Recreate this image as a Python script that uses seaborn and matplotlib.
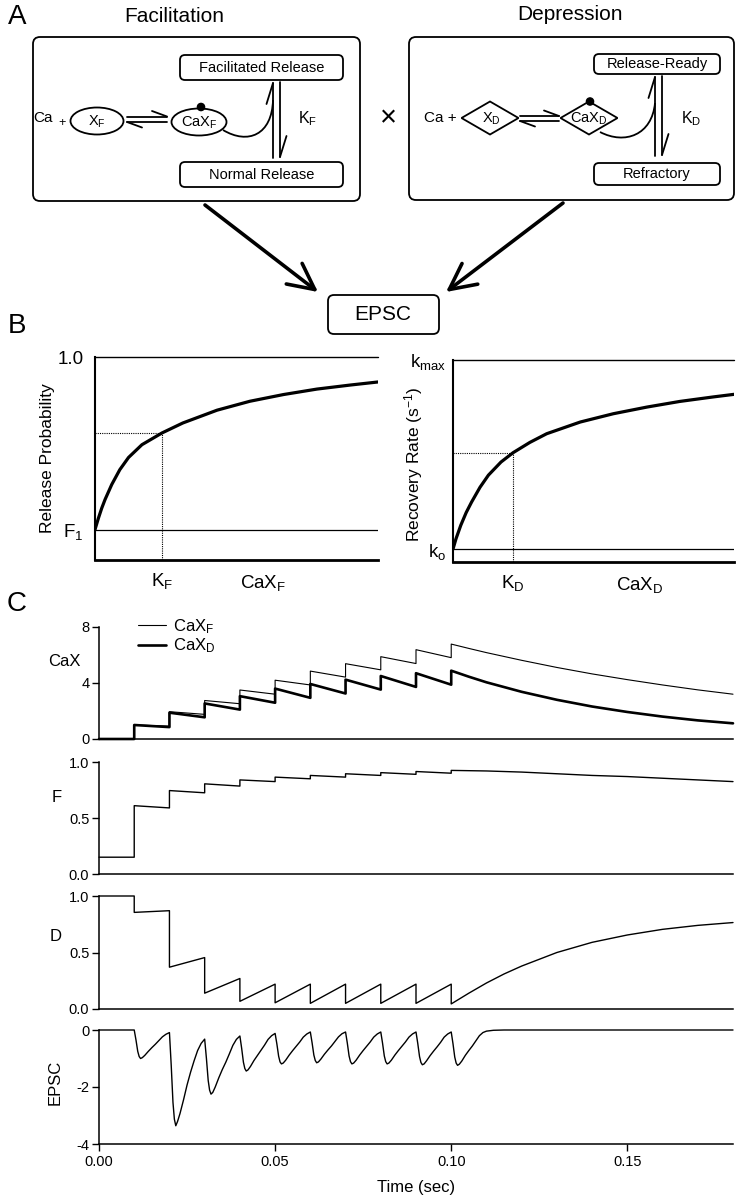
import numpy as np
import pandas as pd
import matplotlib
matplotlib.use("Agg")
import matplotlib.pyplot as plt
import seaborn as sns
from matplotlib.patches import FancyBboxPatch, Ellipse, Polygon, Circle, PathPatch
from matplotlib.path import Path

sns.set_theme(style="ticks")
plt.rcParams["font.family"] = ["Liberation Sans", "DejaVu Sans"]
plt.rcParams["mathtext.fontset"] = "custom"
plt.rcParams["mathtext.rm"] = "Liberation Sans"
plt.rcParams["mathtext.it"] = "Liberation Sans:italic"
plt.rcParams["axes.unicode_minus"] = False
for key in ("text.color", "axes.labelcolor", "xtick.color", "ytick.color",
            "axes.edgecolor", "patch.edgecolor"):
    plt.rcParams[key] = "black"

# ---------------- Panel B data ----------------
relprob_cax = [0, 0.05, 0.1, 0.15, 0.25, 0.37, 0.5, 0.7, 1.0, 1.31, 1.82, 2.31, 2.81, 3.31, 3.81, 4.22]
relprob_val = [0.15, 0.205, 0.255, 0.298, 0.372, 0.445, 0.505, 0.568, 0.626, 0.675, 0.738, 0.782,
               0.815, 0.842, 0.862, 0.877]
F1_level = 0.15
KF_pos = 1.0
KF_val = 0.626

recov_cax = [0, 0.05, 0.13, 0.22, 0.31, 0.45, 0.59, 0.8, 1.0, 1.28, 1.56, 2.12, 2.67, 3.23, 3.78, 4.33, 4.68]
recov_val = [0.064, 0.115, 0.182, 0.245, 0.297, 0.37, 0.43, 0.495, 0.541, 0.592, 0.635, 0.693,
             0.734, 0.767, 0.795, 0.817, 0.83]
k0_level = 0.064
KD_pos = 1.0
KD_val = 0.541

# ---------------- Panel C data ----------------
cax_t = [0, 0.01, 0.01, 0.02, 0.02, 0.03, 0.03, 0.04, 0.04, 0.05, 0.05, 0.06, 0.06,
         0.07, 0.07, 0.08, 0.08, 0.09, 0.09, 0.10, 0.10,
         0.105, 0.11, 0.12, 0.13, 0.14, 0.15, 0.16, 0.17, 0.18]
caxF_v = [0, 0, 1.0, 0.92, 1.95, 1.76, 2.75, 2.52, 3.5, 3.2, 4.2, 3.86, 4.85, 4.42,
          5.38, 4.94, 5.88, 5.39, 6.38, 5.81, 6.78,
          6.47, 6.17, 5.62, 5.11, 4.65, 4.24, 3.86, 3.51, 3.2]
caxD_v = [0, 0, 1.0, 0.85, 1.88, 1.55, 2.54, 2.1, 3.06, 2.59, 3.6, 2.94, 3.93, 3.25,
          4.24, 3.53, 4.5, 3.72, 4.7, 3.88, 4.88,
          4.45, 4.05, 3.37, 2.8, 2.32, 1.93, 1.6, 1.33, 1.12]

F_t = [0, 0.01, 0.01, 0.02, 0.02, 0.03, 0.03, 0.04, 0.04, 0.05, 0.05, 0.06, 0.06,
       0.07, 0.07, 0.08, 0.08, 0.09, 0.09, 0.10, 0.10,
       0.11, 0.12, 0.13, 0.14, 0.15, 0.16, 0.17, 0.18]
F_v = [0.15, 0.15, 0.61, 0.59, 0.745, 0.725, 0.805, 0.785, 0.84, 0.825, 0.865, 0.85,
       0.88, 0.865, 0.895, 0.88, 0.905, 0.89, 0.915, 0.90, 0.925,
       0.92, 0.91, 0.895, 0.88, 0.87, 0.855, 0.84, 0.825]

D_t = [0, 0.01, 0.01, 0.02, 0.02, 0.03, 0.03, 0.04, 0.04, 0.05, 0.05, 0.06, 0.06,
       0.07, 0.07, 0.08, 0.08, 0.09, 0.09, 0.10, 0.10,
       0.105, 0.11, 0.115, 0.12, 0.13, 0.14, 0.15, 0.16, 0.17, 0.18]
D_v = [1.0, 1.0, 0.855, 0.87, 0.37, 0.455, 0.14, 0.27, 0.068, 0.22, 0.055, 0.22,
       0.05, 0.22, 0.05, 0.22, 0.05, 0.22, 0.05, 0.22, 0.045,
       0.14, 0.23, 0.31, 0.38, 0.50, 0.59, 0.655, 0.705, 0.74, 0.765]

epsc_t = [0,
    0.0100, 0.0105, 0.0110, 0.0114, 0.0118, 0.0123, 0.0130, 0.0140, 0.0150, 0.0160, 0.0170, 0.0180, 0.0190,
    0.0200, 0.0205, 0.0210, 0.0214, 0.0218, 0.0223, 0.0230, 0.0240, 0.0250, 0.0260, 0.0270, 0.0280, 0.0290,
    0.0300, 0.0305, 0.0310, 0.0314, 0.0318, 0.0323, 0.0330, 0.0340, 0.0350, 0.0360, 0.0370, 0.0380, 0.0390,
    0.0400, 0.0405, 0.0410, 0.0414, 0.0418, 0.0423, 0.0430, 0.0440, 0.0450, 0.0460, 0.0470, 0.0480, 0.0490,
    0.0500, 0.0505, 0.0510, 0.0514, 0.0518, 0.0523, 0.0530, 0.0540, 0.0550, 0.0560, 0.0570, 0.0580, 0.0590,
    0.0600, 0.0605, 0.0610, 0.0614, 0.0618, 0.0623, 0.0630, 0.0640, 0.0650, 0.0660, 0.0670, 0.0680, 0.0690,
    0.0700, 0.0705, 0.0710, 0.0714, 0.0718, 0.0723, 0.0730, 0.0740, 0.0750, 0.0760, 0.0770, 0.0780, 0.0790,
    0.0800, 0.0805, 0.0810, 0.0814, 0.0818, 0.0823, 0.0830, 0.0840, 0.0850, 0.0860, 0.0870, 0.0880, 0.0890,
    0.0900, 0.0905, 0.0910, 0.0914, 0.0918, 0.0923, 0.0930, 0.0940, 0.0950, 0.0960, 0.0970, 0.0980, 0.0990,
    0.1000, 0.1005, 0.1010, 0.1014, 0.1018, 0.1023, 0.1030, 0.1040, 0.1050, 0.1060, 0.1070, 0.1080, 0.1090,
    0.1100, 0.1120, 0.1150, 0.1800]
epsc_v = [0,
    0.0, -0.35, -0.75, -0.93, -1.0, -0.97, -0.89, -0.75, -0.62, -0.50, -0.37, -0.24, -0.15,
    -0.09, -1.23, -2.54, -3.13, -3.36, -3.21, -2.93, -2.45, -1.93, -1.48, -1.08, -0.72, -0.47,
    -0.32, -1.0, -1.77, -2.11, -2.25, -2.19, -2.0, -1.68, -1.39, -1.13, -0.84, -0.54, -0.33,
    -0.21, -0.64, -1.13, -1.35, -1.44, -1.40, -1.28, -1.07, -0.89, -0.71, -0.53, -0.33, -0.20,
    -0.12, -0.49, -0.92, -1.12, -1.19, -1.16, -1.06, -0.88, -0.72, -0.57, -0.42, -0.25, -0.14,
    -0.07, -0.45, -0.88, -1.07, -1.15, -1.12, -1.02, -0.85, -0.70, -0.56, -0.40, -0.24, -0.13,
    -0.07, -0.46, -0.91, -1.11, -1.19, -1.16, -1.06, -0.88, -0.72, -0.57, -0.42, -0.25, -0.14,
    -0.07, -0.46, -0.91, -1.11, -1.19, -1.16, -1.06, -0.88, -0.72, -0.57, -0.42, -0.25, -0.14,
    -0.07, -0.47, -0.93, -1.14, -1.22, -1.19, -1.08, -0.90, -0.74, -0.59, -0.43, -0.25, -0.14,
    -0.07, -0.48, -0.95, -1.16, -1.24, -1.20, -1.09, -0.89, -0.72, -0.56, -0.38, -0.20, -0.09,
    -0.04, -0.01, 0.0, 0.0]

time_ticks = [0.0, 0.05, 0.10, 0.15]
time_ticklabels = ["0.00", "0.05", "0.10", "0.15"]

# ---------------- Figure ----------------
W, H = 744, 1200
fig = plt.figure(figsize=(W / 100, H / 100), dpi=100)
fig.patch.set_facecolor("white")

# diagram / annotation layer in pixel coordinates
dax = fig.add_axes([0, 0, 1, 1])
dax.set_xlim(0, W)
dax.set_ylim(H, 0)
dax.axis("off")
dax.patch.set_alpha(0)

LW = 1.3
K = "black"

def rbox(x0, y0, x1, y1, r=5, lw=LW):
    dax.add_patch(FancyBboxPatch((x0, y0), x1 - x0, y1 - y0,
                                 boxstyle=f"round,pad=0,rounding_size={r}",
                                 fill=False, lw=lw, ec=K))

def seg(x0, y0, x1, y1, lw=LW):
    dax.plot([x0, x1], [y0, y1], color=K, lw=lw, solid_capstyle="round")

def txt(x, y, s, fs=10, **kw):
    dax.text(x, y, s, fontsize=fs, ha="center", va="center", color=K, **kw)

# panel letters and titles
txt(17, 17, "A", 20)
txt(174, 17, "Facilitation", 15)
txt(570, 15, "Depression", 15)
txt(17, 326, "B", 20)
txt(17, 604, "C", 20)

# outer boxes
rbox(33, 37, 360, 201, r=7)
rbox(409, 37, 734, 200, r=7)

# --- Facilitation scheme ---
txt(43, 118, "Ca", 11)
txt(62, 123, "+", 9)
dax.add_patch(Ellipse((97, 121), 53, 27, fill=False, lw=LW, ec=K))
txt(97, 122, r"X$_{\mathregular{F}}$", 10.5)
seg(127, 116.5, 167, 116.5); seg(167, 116.5, 152, 111)
seg(127, 122, 167, 122); seg(127, 122, 142, 127.5)
dax.add_patch(Ellipse((199, 122), 55, 27, fill=False, lw=LW, ec=K))
txt(199, 123, r"CaX$_{\mathregular{F}}$", 10.5)
dax.add_patch(Circle((201, 107), 3.6, fc=K, ec=K))
dax.add_patch(PathPatch(Path([(223, 130), (248, 145), (272, 135), (273, 100)],
                             [Path.MOVETO, Path.CURVE4, Path.CURVE4, Path.CURVE4]),
                        fill=False, lw=LW, ec=K))
rbox(180, 55, 343, 80, r=5)
txt(262, 68, "Facilitated Release", 10.5)
rbox(180, 162, 343, 187, r=5)
txt(262, 175, "Normal Release", 10.5)
seg(273, 83, 273, 158); seg(273, 83, 266.5, 104)
seg(280, 82, 280, 157); seg(280, 157, 286.5, 136)
txt(308, 119, r"K$_{\mathregular{F}}$", 11.5)

# --- Depression scheme ---
txt(388, 118, "×", 21)
txt(440, 118, "Ca +", 11)
def diamond(cx, cy, w, h):
    dax.add_patch(Polygon([(cx - w / 2, cy), (cx, cy - h / 2), (cx + w / 2, cy), (cx, cy + h / 2)],
                          closed=True, fill=False, lw=LW, ec=K))
diamond(490, 118, 57, 33)
txt(491, 119, r"X$_{\mathregular{D}}$", 10.5)
seg(520, 116, 559, 116); seg(559, 116, 544, 110.5)
seg(520, 121, 559, 121); seg(520, 121, 535, 126.5)
diamond(589, 118, 57, 33)
txt(589, 119, r"CaX$_{\mathregular{D}}$", 10.5)
dax.add_patch(Circle((590, 101.5), 3.6, fc=K, ec=K))
dax.add_patch(PathPatch(Path([(600, 132), (625, 145), (652, 135), (655, 103)],
                             [Path.MOVETO, Path.CURVE4, Path.CURVE4, Path.CURVE4]),
                        fill=False, lw=LW, ec=K))
rbox(594, 54, 720, 74, r=5)
txt(657, 64, "Release-Ready", 10.5)
rbox(594, 163, 720, 185, r=5)
txt(657, 174, "Refractory", 10.5)
seg(655, 77, 655, 156); seg(655, 77, 648.5, 98)
seg(662, 76, 662, 155); seg(662, 155, 668.5, 134)
txt(691, 119, r"K$_{\mathregular{D}}$", 11.5)

# --- arrows to EPSC ---
for start, end in [((205, 205), (318, 292)), ((563, 203), (446, 292))]:
    dax.annotate("", xy=end, xytext=start,
                 arrowprops=dict(arrowstyle="->,head_length=1.1,head_width=0.55",
                                 lw=2.6, color=K, mutation_scale=17,
                                 shrinkA=0, shrinkB=0))
rbox(328, 295, 439, 334, r=6)
txt(383, 315, "EPSC", 15)

# ---------------- Panel B ----------------
def fig_axes(left, right, top, bottom):
    return fig.add_axes([left / W, 1 - bottom / H, (right - left) / W, (bottom - top) / H])

axB1 = fig_axes(95, 378, 357, 560)
dfB1 = pd.DataFrame({"cax": relprob_cax, "prob": relprob_val})
sns.lineplot(data=dfB1, x="cax", y="prob", ax=axB1, color=K, lw=2.3,
             estimator=None, sort=False)
axB1.set_xlim(0, relprob_cax[-1])
axB1.set_ylim(0, 1.0)
axB1.axhline(1.0, color=K, lw=1.0, clip_on=False)
axB1.axhline(F1_level, color=K, lw=0.9)
axB1.plot([0, KF_pos], [KF_val, KF_val], ls=(0, (1, 1)), color=K, lw=0.8)
axB1.plot([KF_pos, KF_pos], [0, KF_val], ls=(0, (1, 1)), color=K, lw=0.8)
axB1.set_yticks([F1_level, 1.0])
axB1.set_yticklabels([r"F$_{\mathregular{1}}$", "1.0"], fontsize=13.5)
axB1.set_xticks([KF_pos])
axB1.set_xticklabels([r"K$_{\mathregular{F}}$"], fontsize=13.5)
axB1.tick_params(length=0, pad=8)
axB1.set_ylabel("Release Probability", fontsize=12.5)
axB1.yaxis.set_label_coords(-0.141, 0.5)
axB1.set_xlabel(r"CaX$_{\mathregular{F}}$", fontsize=13.5)
axB1.xaxis.set_label_coords(0.594, -0.064)

axB2 = fig_axes(453, 734, 360, 562)
dfB2 = pd.DataFrame({"cax": recov_cax, "rate": recov_val})
sns.lineplot(data=dfB2, x="cax", y="rate", ax=axB2, color=K, lw=2.3,
             estimator=None, sort=False)
axB2.set_xlim(0, recov_cax[-1])
axB2.set_ylim(0, 1.0)
axB2.axhline(1.0, color=K, lw=1.0, clip_on=False)
axB2.axhline(k0_level, color=K, lw=0.9)
axB2.plot([0, KD_pos], [KD_val, KD_val], ls=(0, (1, 1)), color=K, lw=0.8)
axB2.plot([KD_pos, KD_pos], [0, KD_val], ls=(0, (1, 1)), color=K, lw=0.8)
axB2.set_yticks([k0_level, 1.0])
axB2.set_yticklabels([r"k$_{\mathregular{o}}$", r"k$_{\mathregular{max}}$"], fontsize=13.5)
axB2.set_xticks([KD_pos])
axB2.set_xticklabels([r"K$_{\mathregular{D}}$"], fontsize=13.5)
axB2.tick_params(axis="y", length=0, pad=5)
axB2.tick_params(axis="x", length=0, pad=8)
axB2.set_ylabel(r"Recovery Rate (s$^{\mathregular{-1}}$)", fontsize=12.5)
axB2.yaxis.set_label_coords(-0.1, 0.485)
axB2.set_xlabel(r"CaX$_{\mathregular{D}}$", fontsize=13.5)
axB2.xaxis.set_label_coords(0.665, -0.064)

for ax in (axB1, axB2):
    sns.despine(ax=ax)
    ax.spines["left"].set_linewidth(1.5)
    ax.spines["bottom"].set_linewidth(2.0)
    ax.spines["left"].set_color(K)
    ax.spines["bottom"].set_color(K)

# ---------------- Panel C ----------------
axC1 = fig_axes(99, 733, 627, 739)
axC2 = fig_axes(99, 733, 762, 874)
axC3 = fig_axes(99, 733, 896, 1009)
axC4 = fig_axes(99, 733, 1030, 1144)

dfCa = pd.DataFrame({"t": cax_t, "F": caxF_v, "D": caxD_v})
sns.lineplot(data=dfCa, x="t", y="F", ax=axC1, color=K, lw=0.8,
             estimator=None, sort=False, label=r"CaX$_{\mathregular{F}}$")
sns.lineplot(data=dfCa, x="t", y="D", ax=axC1, color=K, lw=1.9,
             estimator=None, sort=False, label=r"CaX$_{\mathregular{D}}$")
axC1.set_ylim(0, 8)
axC1.set_yticks([0, 4, 8])
axC1.set_yticklabels(["0", "4", "8"])
axC1.set_ylabel("CaX", rotation=0, ha="center", va="center", fontsize=12)
axC1.yaxis.set_label_coords(-0.055, 0.69)
leg = axC1.legend(loc="upper left", bbox_to_anchor=(0.062, 1.09), frameon=False,
                  fontsize=12, handlelength=1.65, handletextpad=0.45,
                  labelspacing=0.05, borderpad=0, borderaxespad=0)

dfF = pd.DataFrame({"t": F_t, "F": F_v})
sns.lineplot(data=dfF, x="t", y="F", ax=axC2, color=K, lw=1.0,
             estimator=None, sort=False)
axC2.set_ylim(0, 1.0)
axC2.set_yticks([0, 0.5, 1.0])
axC2.set_yticklabels(["0.0", "0.5", "1.0"])
axC2.set_ylabel("F", rotation=0, ha="center", va="center", fontsize=12)
axC2.yaxis.set_label_coords(-0.066, 0.68)

dfD = pd.DataFrame({"t": D_t, "D": D_v})
sns.lineplot(data=dfD, x="t", y="D", ax=axC3, color=K, lw=1.0,
             estimator=None, sort=False)
axC3.set_ylim(0, 1.0)
axC3.set_yticks([0, 0.5, 1.0])
axC3.set_yticklabels(["0.0", "0.5", "1.0"])
axC3.set_ylabel("D", rotation=0, ha="center", va="center", fontsize=12)
axC3.yaxis.set_label_coords(-0.068, 0.64)

dfE = pd.DataFrame({"t": epsc_t, "EPSC": epsc_v})
sns.lineplot(data=dfE, x="t", y="EPSC", ax=axC4, color=K, lw=1.0,
             estimator=None, sort=False)
axC4.set_ylim(-4, 0)
axC4.set_yticks([-4, -2, 0])
axC4.set_yticklabels(["-4", "-2", "0"])
axC4.set_ylabel("EPSC", fontsize=12)
axC4.yaxis.set_label_coords(-0.058, 0.54)
axC4.set_xticks(time_ticks)
axC4.set_xticklabels(time_ticklabels)
axC4.set_xlabel("Time (sec)", fontsize=12, labelpad=8)

for ax in (axC1, axC2, axC3, axC4):
    ax.set_xlim(0, 0.18)
    sns.despine(ax=ax)
    for sp in ("left", "bottom"):
        ax.spines[sp].set_linewidth(1.1)
        ax.spines[sp].set_color(K)
    ax.tick_params(axis="y", length=5, width=1.0, labelsize=10.5, pad=2, color=K)
    for ln in ax.lines:
        ln.set_clip_on(False)
    if ax is not axC4:
        ax.set_xticks([])
        ax.set_xlabel("")
axC4.tick_params(axis="x", length=5, width=1.0, labelsize=10.5, pad=3, color=K)

fig.savefig("out.png", dpi=100, facecolor="white")
